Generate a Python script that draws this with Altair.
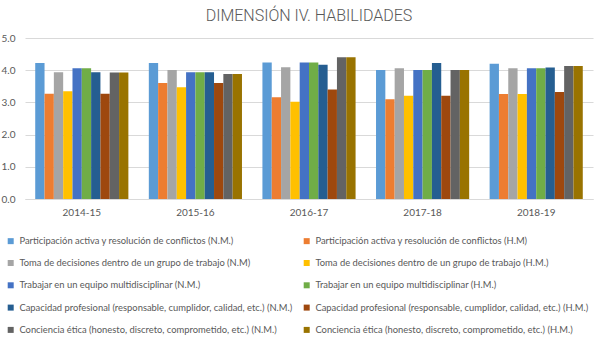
import altair as alt
import pandas as pd

periods = ["2014-15", "2015-16", "2016-17", "2017-18", "2018-19"]
series = [
    "Participación activa y resolución de conflictos (N.M.)",
    "Participación activa y resolución de conflictos (H.M)",
    "Toma de decisiones dentro de un grupo de trabajo (N.M)",
    "Toma de decisiones dentro de un grupo de trabajo (H.M.)",
    "Trabajar en un equipo multidisciplinar (N.M.)",
    "Trabajar en un equipo multidisciplinar (H.M.)",
    "Capacidad profesional (responsable, cumplidor, calidad, etc.) (N.M.)",
    "Capacidad profesional (responsable, cumplidor, calidad, etc.) (H.M.)",
    "Conciencia ética (honesto, discreto, comprometido, etc.) (N.M.)",
    "Conciencia ética (honesto, discreto, comprometido, etc.) (H.M.)",
]
colors = ["#5B9BD5", "#ED7D31", "#A5A5A5", "#FFC000", "#4472C4",
          "#70AD47", "#255E91", "#9E480E", "#636363", "#997300"]

values = {
    "2014-15": [4.22, 3.27, 3.94, 3.35, 4.06, 4.06, 3.94, 3.27, 3.93, 3.93],
    "2015-16": [4.22, 3.60, 4.01, 3.47, 3.94, 3.94, 3.94, 3.60, 3.88, 3.88],
    "2016-17": [4.24, 3.16, 4.09, 3.02, 4.24, 4.24, 4.17, 3.40, 4.40, 4.40],
    "2017-18": [4.01, 3.10, 4.06, 3.21, 4.01, 4.01, 4.22, 3.21, 4.01, 4.01],
    "2018-19": [4.20, 3.26, 4.06, 3.26, 4.06, 4.06, 4.08, 3.32, 4.13, 4.13],
}

rows = []
for p in periods:
    for i, s in enumerate(series):
        rows.append({"period": p, "series": s, "order": i, "value": values[p][i]})
df = pd.DataFrame(rows)

# legend is filled column by column: N.M. series in the left column, H.M. in the right
legend_idx = list(range(0, 10, 2)) + list(range(1, 10, 2))
legend_domain = [series[i] for i in legend_idx]
legend_range = [colors[i] for i in legend_idx]

FONT = "Lato"
GREY = "#595959"

chart = alt.Chart(df).mark_bar().encode(
    x=alt.X("period:N", sort=periods, title=None,
            scale=alt.Scale(paddingInner=0.18, paddingOuter=0.09),
            axis=alt.Axis(labelAngle=0, ticks=False, domainColor="#D9D9D9",
                          labelColor=GREY, labelFontSize=10, labelFont=FONT,
                          labelPadding=8)),
    xOffset=alt.XOffset("series:N", sort=series, scale=alt.Scale(paddingInner=0, paddingOuter=0)),
    y=alt.Y("value:Q", title=None,
            scale=alt.Scale(domain=[0, 5]),
            axis=alt.Axis(values=[0, 1, 2, 3, 4, 5], format=".1f", ticks=False,
                          domain=False, gridColor="#D9D9D9", labelColor=GREY,
                          labelFontSize=10, labelFont=FONT, labelAlign="left",
                          labelPadding=24)),
    color=alt.Color("series:N",
                    scale=alt.Scale(domain=legend_domain, range=legend_range),
                    legend=alt.Legend(title=None, orient="none", columns=2,
                                      legendX=-19, legendY=198,
                                      symbolType="square", symbolSize=36,
                                      symbolStrokeWidth=0, labelOffset=4,
                                      labelFontSize=9.4, labelFont=FONT,
                                      labelColor=GREY, labelLimit=300,
                                      rowPadding=11.3, columnPadding=9,
                                      gridAlign="all")),
).properties(
    width=568, height=161,
    title=alt.TitleParams("DIMENSIÓN IV. HABILIDADES", fontSize=16, font="Roboto",
                          fontWeight=300, color=GREY, offset=9),
    padding={"left": 25, "top": 38, "right": 7, "bottom": 155},
    autosize=alt.AutoSizeParams(type="none"),
).configure_view(stroke=None)

chart.save("out.html", embed_options={"renderer": "svg", "actions": False})
